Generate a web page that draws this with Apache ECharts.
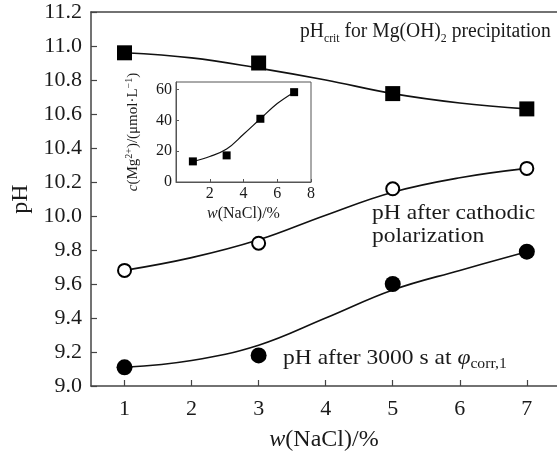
<!DOCTYPE html>
<html><head><meta charset="utf-8">
<script src="https://cdn.jsdelivr.net/npm/echarts@6/dist/echarts.min.js"></script>
<style>html,body{margin:0;padding:0;background:#fff}#c{width:557px;height:454px}</style>
</head><body><div id="c"></div>
<script>
// ---- data ----
const naclPct = [1, 3, 5, 7];
const phCrit = [10.96, 10.90, 10.72, 10.63];
const phCathodic = [9.68, 9.84, 10.16, 10.28];
const ph3000s = [9.11, 9.18, 9.60, 9.79];
const fitPct = [1, 2, 3, 4, 5, 6, 7];
const phCritFit = [10.96, 10.93, 10.87, 10.80, 10.72, 10.665, 10.63];
const phCathodicFit = [9.68, 9.755, 9.86, 10.005, 10.14, 10.225, 10.28];
const ph3000sFit = [9.11, 9.15, 9.24, 9.40, 9.565, 9.68, 9.79];
const xTickValues = [1, 2, 3, 4, 5, 6, 7];
const insetPct = [1, 3, 5, 7];
const mgConc = [13.4, 17.3, 41.1, 58.4];
const insetFitPct = [1, 2, 3, 4, 5, 6, 7];
const mgFit = [13.4, 16.6, 21.4, 31.0, 41.1, 51.0, 58.4];
const insetXTicks = [2, 4, 6, 8];
const insetYTicks = [0, 20, 40, 60];

const SERIF = 'Liberation Serif';
const INK = '#1a1a1a';
const pairs = (xs, ys) => xs.map((x, i) => [x, ys[i]]);

const chart = echarts.init(document.getElementById('c'), null, {renderer: 'canvas'});

const mainAxisLine = {show: true, lineStyle: {color: '#444', width: 1.5}};

const option = {
  backgroundColor: '#fff',
  animation: false,
  grid: [
    {left: 91, top: 12, width: 466, height: 374, show: false, containLabel: false, outerBoundsMode: 'none'},
    {left: 176, top: 82, width: 135, height: 100, show: true, borderColor: '#555', borderWidth: 1, backgroundColor: 'transparent', containLabel: false, outerBoundsMode: 'none'}
  ],
  xAxis: [
    {
      type: 'value', gridIndex: 0, min: 0.5, max: 7.45,
      axisLine: mainAxisLine,
      axisTick: {show: true, inside: true, length: 6, customValues: xTickValues, lineStyle: {color: '#444', width: 1.2}},
      axisLabel: {customValues: xTickValues, color: INK, fontFamily: SERIF, fontSize: 22, margin: 12},
      splitLine: {show: false},
      name: '{i|w}{n|(NaCl)/%}', nameLocation: 'middle', nameGap: 42,
      nameTextStyle: {rich: {
        i: {fontFamily: SERIF, fontSize: 24, fontStyle: 'italic', color: INK},
        n: {fontFamily: SERIF, fontSize: 24, color: INK}
      }}
    },
    {
      type: 'value', gridIndex: 1, min: 0, max: 8,
      axisLine: {show: true, lineStyle: {color: '#555', width: 1}},
      axisTick: {show: true, inside: true, length: 3, customValues: insetXTicks, lineStyle: {color: '#555'}},
      axisLabel: {customValues: insetXTicks, color: INK, fontFamily: SERIF, fontSize: 16, margin: 4},
      splitLine: {show: false},
      name: '{i|w}{n|(NaCl)/%}', nameLocation: 'middle', nameGap: 24,
      nameTextStyle: {rich: {
        i: {fontFamily: SERIF, fontSize: 16, fontStyle: 'italic', color: INK},
        n: {fontFamily: SERIF, fontSize: 16, color: INK}
      }}
    },
    {
      type: 'value', gridIndex: 0, min: 0.5, max: 7.45, position: 'top',
      axisLine: {show: true, lineStyle: {color: '#444', width: 1.5}},
      axisTick: {show: false}, axisLabel: {show: false}, splitLine: {show: false}
    }
  ],
  yAxis: [
    {
      type: 'value', gridIndex: 0, min: 9.0, max: 11.2, interval: 0.2,
      axisLine: mainAxisLine,
      axisTick: {show: true, inside: true, length: 6, lineStyle: {color: '#444', width: 1.2}},
      axisLabel: {color: INK, fontFamily: SERIF, fontSize: 22, margin: 9, formatter: v => v.toFixed(1)},
      splitLine: {show: false},
      name: 'pH', nameLocation: 'middle', nameGap: 57, nameRotate: 90,
      nameTextStyle: {fontFamily: SERIF, fontSize: 24, color: INK}
    },
    {
      type: 'value', gridIndex: 1, min: 0, max: 65,
      axisLine: {show: true, lineStyle: {color: '#555', width: 1}},
      axisTick: {show: true, inside: true, length: 3, customValues: insetYTicks, lineStyle: {color: '#555'}},
      axisLabel: {customValues: insetYTicks, color: INK, fontFamily: SERIF, fontSize: 16, margin: 4},
      splitLine: {show: false},
      name: '{i|c}{n|(Mg}{s|2+}{n|)/(μmol·L}{s|−1}{n|)}', nameLocation: 'middle', nameGap: 33, nameRotate: 90,
      nameTextStyle: {rich: {
        i: {fontFamily: SERIF, fontSize: 15, fontStyle: 'italic', color: INK, lineHeight: 19},
        n: {fontFamily: SERIF, fontSize: 15, color: INK, lineHeight: 19},
        s: {fontFamily: SERIF, fontSize: 10, color: INK, lineHeight: 11, verticalAlign: 'top'}
      }}
    }
  ],
  series: [
    {type: 'line', xAxisIndex: 0, yAxisIndex: 0, data: pairs(fitPct, phCritFit), smooth: 0.4, symbol: 'none', lineStyle: {color: '#111', width: 1.6}, z: 2},
    {type: 'line', xAxisIndex: 0, yAxisIndex: 0, data: pairs(fitPct, phCathodicFit), smooth: 0.4, symbol: 'none', lineStyle: {color: '#111', width: 1.6}, z: 2},
    {type: 'line', xAxisIndex: 0, yAxisIndex: 0, data: pairs(fitPct, ph3000sFit), smooth: 0.4, symbol: 'none', lineStyle: {color: '#111', width: 1.6}, z: 2},
    {type: 'scatter', xAxisIndex: 0, yAxisIndex: 0, data: pairs(naclPct, phCrit), symbol: 'rect', symbolSize: 15, itemStyle: {color: '#000', opacity: 1}, z: 3},
    {type: 'scatter', xAxisIndex: 0, yAxisIndex: 0, data: pairs(naclPct, phCathodic), symbol: 'circle', symbolSize: 13, itemStyle: {color: '#fff', borderColor: '#000', borderWidth: 2, opacity: 1}, z: 3},
    {type: 'scatter', xAxisIndex: 0, yAxisIndex: 0, data: pairs(naclPct, ph3000s), symbol: 'circle', symbolSize: 16, itemStyle: {color: '#000', opacity: 1}, z: 3},
    {type: 'line', xAxisIndex: 1, yAxisIndex: 1, data: pairs(insetFitPct, mgFit), smooth: 0.4, symbol: 'none', lineStyle: {color: '#111', width: 1.2}, z: 2},
    {type: 'scatter', xAxisIndex: 1, yAxisIndex: 1, data: pairs(insetPct, mgConc), symbol: 'rect', symbolSize: 8, itemStyle: {color: '#000', opacity: 1}, z: 3}
  ],
  graphic: [
    {
      type: 'text', x: 300, y: 32, scaleX: 0.98, z: 10,
      style: {
        x: 0, y: 0, align: 'left', verticalAlign: 'middle',
        text: '{a|pH}{s|crit}{a| for Mg(OH)}{s|2}{a| precipitation}',
        rich: {
          a: {fontFamily: SERIF, fontSize: 20, fill: INK, lineHeight: 25},
          s: {fontFamily: SERIF, fontSize: 12, fill: INK, lineHeight: 13, verticalAlign: 'bottom'}
        }
      }
    },
    {
      type: 'text', x: 372, y: 213, scaleX: 1.12, z: 10,
      style: {x: 0, y: 0, align: 'left', verticalAlign: 'middle', text: 'pH after cathodic', fontFamily: SERIF, fontSize: 21, fill: INK}
    },
    {
      type: 'text', x: 372, y: 236, scaleX: 1.12, z: 10,
      style: {x: 0, y: 0, align: 'left', verticalAlign: 'middle', text: 'polarization', fontFamily: SERIF, fontSize: 21, fill: INK}
    },
    {
      type: 'text', x: 283, y: 358, scaleX: 1.12, z: 10,
      style: {
        x: 0, y: 0, align: 'left', verticalAlign: 'middle',
        text: '{a|pH after 3000 s at }{i|φ}{s|corr,1}',
        rich: {
          a: {fontFamily: SERIF, fontSize: 21, fill: INK, lineHeight: 26},
          i: {fontFamily: SERIF, fontSize: 21, fontStyle: 'italic', fill: INK, lineHeight: 26},
          s: {fontFamily: SERIF, fontSize: 14, fill: INK, lineHeight: 14, verticalAlign: 'bottom'}
        }
      }
    }
  ]
};
chart.setOption(option);
</script>
</body></html>
